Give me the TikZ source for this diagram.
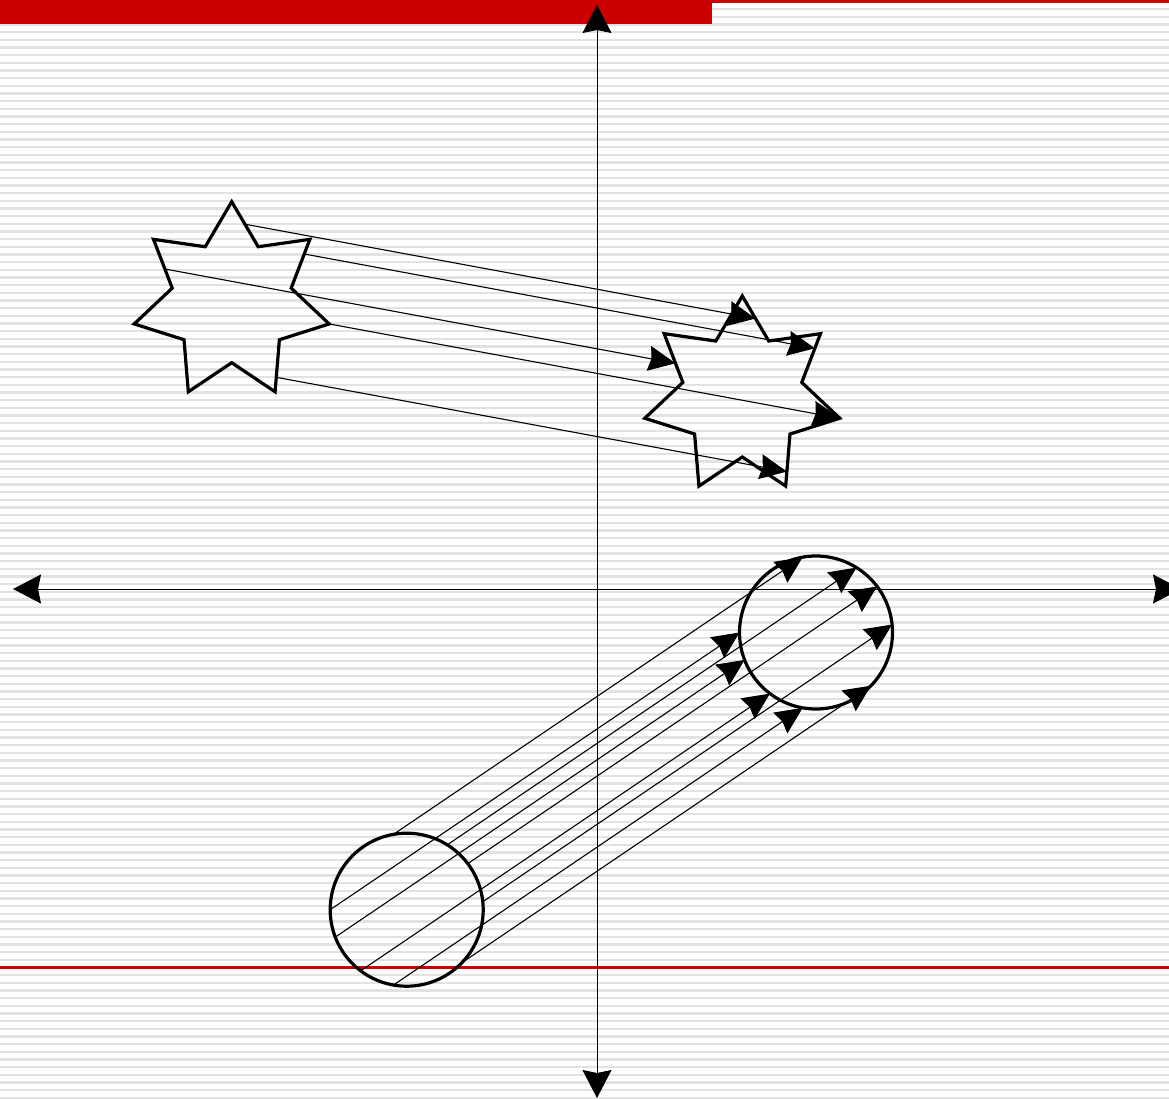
\documentclass[tikz,border=0pt]{standalone}
\usetikzlibrary{arrows.meta,calc}
\definecolor{stripe}{RGB}{226,226,226}
\definecolor{redbar}{RGB}{204,0,0}
\begin{document}
\begin{tikzpicture}[x=1pt,y=-1pt,
  shapeline/.style={line width=3.2pt, line join=miter},
  movearrow/.style={line width=1.1pt, -{Stealth[length=27pt,width=25pt,inset=2.5pt]}},
  axisline/.style={line width=1pt, {Stealth[length=28pt,width=29pt,inset=3pt]}-{Stealth[length=28pt,width=29pt,inset=3pt]}}]
\useasboundingbox (0,0) rectangle (1169,1099);
% lined paper
\foreach \k in {0,...,143}
  \fill[stripe] (0,{0.3+7.667*\k}) rectangle (1169,{2.7+7.667*\k});
\fill[redbar] (0,0) rectangle (712,24);
\fill[redbar] (712,0) rectangle (1169,3);
\fill[redbar] (0,965.7) rectangle (1169,968.5);
% axes
\coordinate (yTop) at (597,5);
\coordinate (yBot) at (597,1098);
\coordinate (xL) at (13,589);
\coordinate (xR) at (1181,589);
\draw[axisline] (yBot) -- (yTop);
\draw[axisline] (xL) -- (xR);
% stars
\foreach \cx/\cy in {231.7/301.7, 742.3/396}{
  \draw[shapeline] ({\cx},{\cy-100})
    \foreach \i in {1,...,13}{
      -- ({\cx+(80.5+19.5*cos(180*\i))*cos(90-\i*180/7)},{\cy-(80.5+19.5*cos(180*\i))*sin(90-\i*180/7)})
    } -- cycle;
}
% star translation arrows
\foreach \n/\sx/\sy in {1/245/224.2, 2/304.3/254, 3/164.9/269, 4/329.2/323.95, 5/276.3/377.3}{
  \coordinate (s\n) at (\sx,\sy);
  \coordinate (t\n) at ({\sx+510.6},{\sy+94.3});
  \draw[movearrow] (s\n) -- (t\n);
}
% circles
\coordinate (c1) at (406.7,909.7);
\coordinate (c2) at (816,632.5);
\draw[line width=3.2pt] (c1) circle[radius=76.5];
\draw[line width=3.2pt] (c2) circle[radius=76.5];
\foreach \a in {100,58,37,6,-44,180,201,233,260}{
  \coordinate (p\a) at ($(c1)+({76.5*cos(\a)},{-76.5*sin(\a)})$);
  \coordinate (q\a) at ($(c2)+({76.5*cos(\a)},{-76.5*sin(\a)})$);
  \draw[movearrow] (p\a) -- (q\a);
}
\end{tikzpicture}
\end{document}
